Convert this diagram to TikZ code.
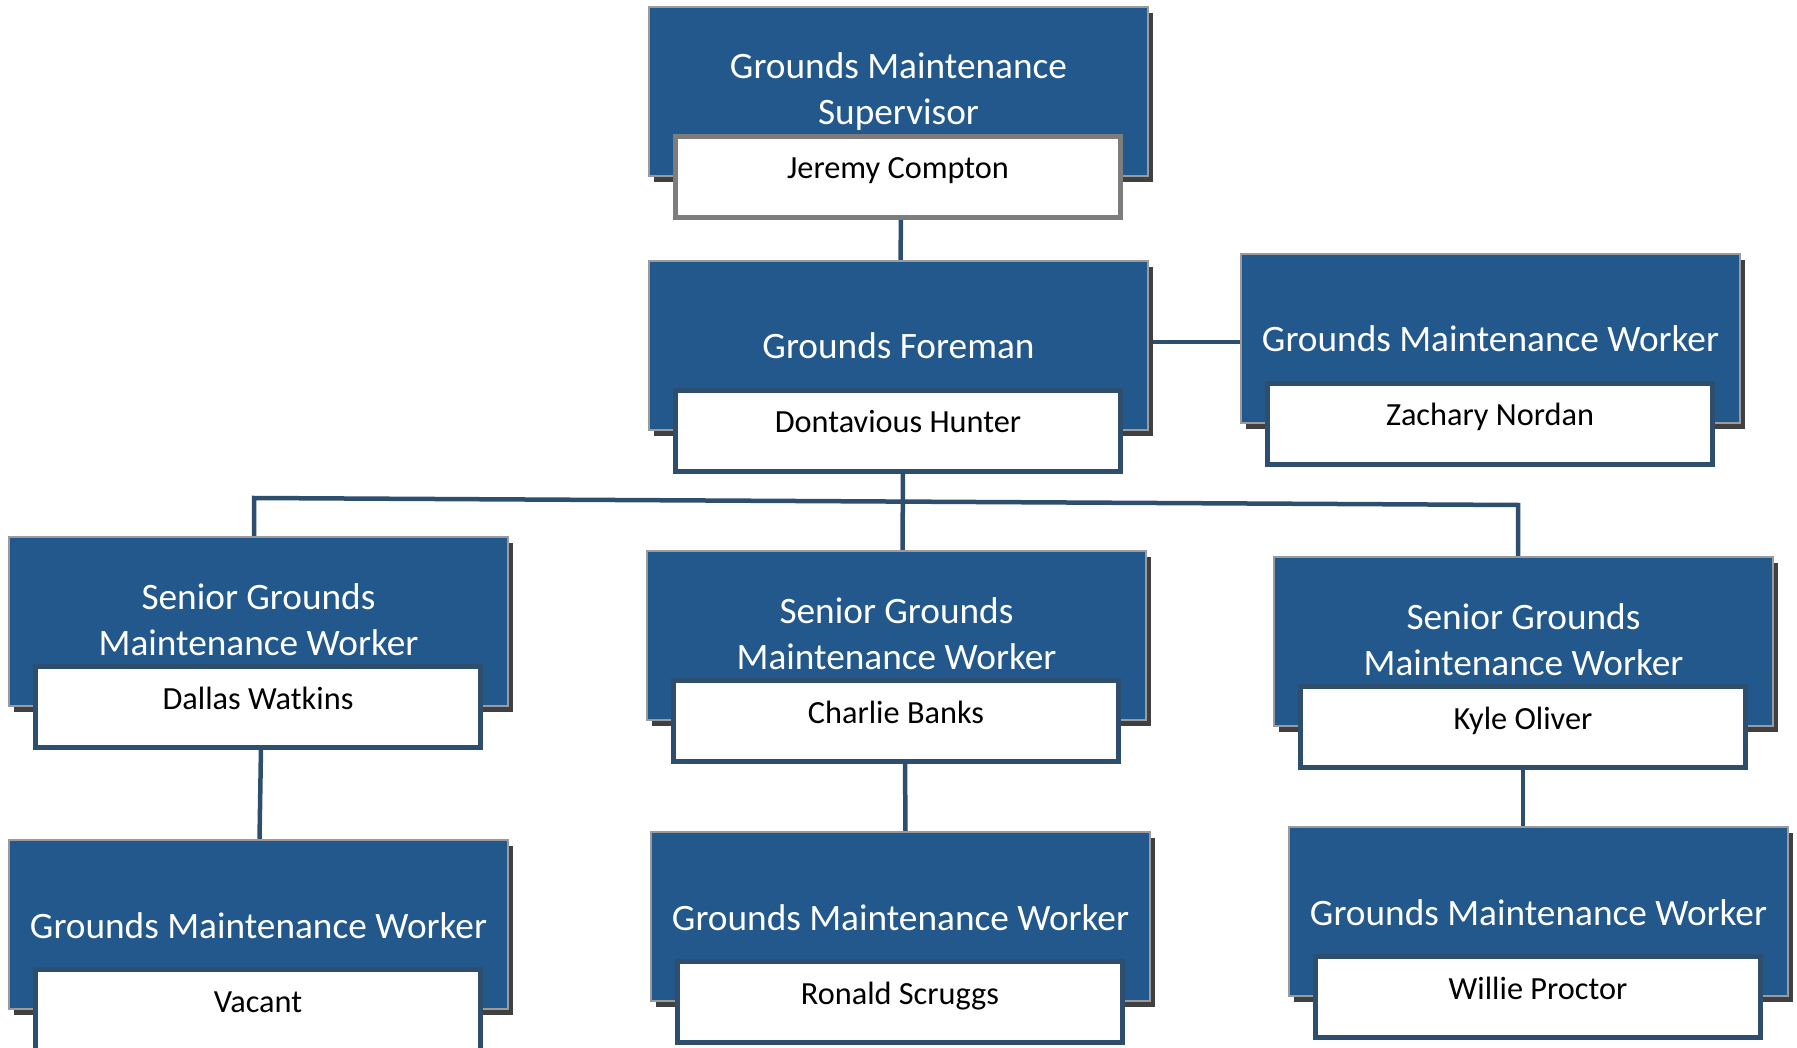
\documentclass[tikz,border=0pt]{standalone}
\usepackage{fontspec}
\setmainfont{Carlito}
\usetikzlibrary{calc,shadows}
\definecolor{gmblue}{RGB}{35,88,140}
\definecolor{edgegray}{RGB}{155,155,155}
\definecolor{shadowgray}{RGB}{64,64,64}
\definecolor{slate}{RGB}{46,78,110}
\definecolor{namegray}{RGB}{125,125,125}
\pgfdeclarelayer{bg}
\pgfsetlayers{bg,main}
\begin{document}
\begin{tikzpicture}[x=1pt,y=-1pt,
  bluebox/.style={rectangle, draw=edgegray, line width=2pt, fill=gmblue,
    minimum width=499pt, minimum height=169pt, inner sep=0pt, outer sep=0pt,
    anchor=north west,
    drop shadow={shadow xshift=5pt, shadow yshift=-6pt, fill=shadowgray, opacity=1}},
  titletext/.style={text=white, align=center, inner sep=0pt, anchor=base,
    font=\fontsize{37.3}{46}\selectfont},
  namebox/.style={rectangle, draw=slate, line width=5pt, fill=white,
    minimum width=445pt, minimum height=81pt, inner sep=0pt, outer sep=0pt,
    text height=4.6pt, text depth=0pt, anchor=north west,
    font=\fontsize{32.3}{38}\selectfont},
  conn/.style={draw=slate, line width=4.5pt}
]
\useasboundingbox (0,0) rectangle (1797,1048);
\clip (0,0) rectangle (1797,1048);

% Supervisor
\node[bluebox] (sup) at (649,7) {};
\node[titletext] (supt) at ($(sup.north)+(0,118)$) {Grounds Maintenance\\Supervisor};
\node[namebox, draw=namegray] (supn) at ($(sup.north west)+(26.5,129.2)$) {Jeremy Compton};

% Foreman
\node[bluebox] (fore) at (649,261) {};
\node[titletext] (foret) at ($(fore.north)+(0,98)$) {Grounds Foreman};
\node[namebox] (foren) at ($(fore.north west)+(26.5,129.2)$) {Dontavious Hunter};

% Zachary
\node[bluebox] (zach) at (1241,254) {};
\node[titletext] (zacht) at ($(zach.north)+(0,98)$) {Grounds Maintenance Worker};
\node[namebox] (zachn) at ($(zach.north west)+(26.5,129.2)$) {Zachary Nordan};

% Seniors
\node[bluebox] (s1) at (9,537) {};
\node[titletext] (s1t) at ($(s1.north)+(0,118)$) {Senior Grounds\\Maintenance Worker};
\node[namebox] (s1n) at ($(s1.north west)+(26.5,129.2)$) {Dallas Watkins};

\node[bluebox] (s2) at (647,551) {};
\node[titletext] (s2t) at ($(s2.north)+(0,118)$) {Senior Grounds\\Maintenance Worker};
\node[namebox] (s2n) at ($(s2.north west)+(26.5,129.2)$) {Charlie Banks};

\node[bluebox] (s3) at (1274,557) {};
\node[titletext] (s3t) at ($(s3.north)+(0,118)$) {Senior Grounds\\Maintenance Worker};
\node[namebox] (s3n) at ($(s3.north west)+(26.5,129.2)$) {Kyle Oliver};

% Workers
\node[bluebox] (g1) at (9,840) {};
\node[titletext] (g1t) at ($(g1.north)+(0,98)$) {Grounds Maintenance Worker};
\node[namebox] (g1n) at ($(g1.north west)+(26.5,129.2)$) {Vacant};

\node[bluebox] (g2) at (651,832) {};
\node[titletext] (g2t) at ($(g2.north)+(0,98)$) {Grounds Maintenance Worker};
\node[namebox] (g2n) at ($(g2.north west)+(26.5,129.2)$) {Ronald Scruggs};

\node[bluebox] (g3) at (1289,827) {};
\node[titletext] (g3t) at ($(g3.north)+(0,98)$) {Grounds Maintenance Worker};
\node[namebox] (g3n) at ($(g3.north west)+(26.5,129.2)$) {Willie Proctor};

% Connectors
\coordinate (bl) at (254,498);
\coordinate (br) at (1518,505);
\coordinate (zl) at ($(zach.west)+(0,3.5)$);
\begin{pgfonlayer}{bg}
\draw[conn] ($(supn.south)+(3,0)$) -- ($(fore.north)+(2,0)$);
\draw[conn] (zl) -- (zl -| fore.east);
\draw[conn] ($(foren.south)+(5,0)$) -- ($(s2.north)+(6,0)$);
\draw[conn] (s1.north -| bl) -- (bl) -- (br) -- (s3.north -| br);
\draw[conn] ($(s1n.south)+(3,0)$) -- ($(g1.north)+(1,0)$);
\draw[conn] ($(s2n.south)+(9,0)$) -- ($(g2.north)+(5,0)$);
\draw[conn] (s3n.south) -- (s3n.south |- g3.north);
\end{pgfonlayer}
\end{tikzpicture}
\end{document}
